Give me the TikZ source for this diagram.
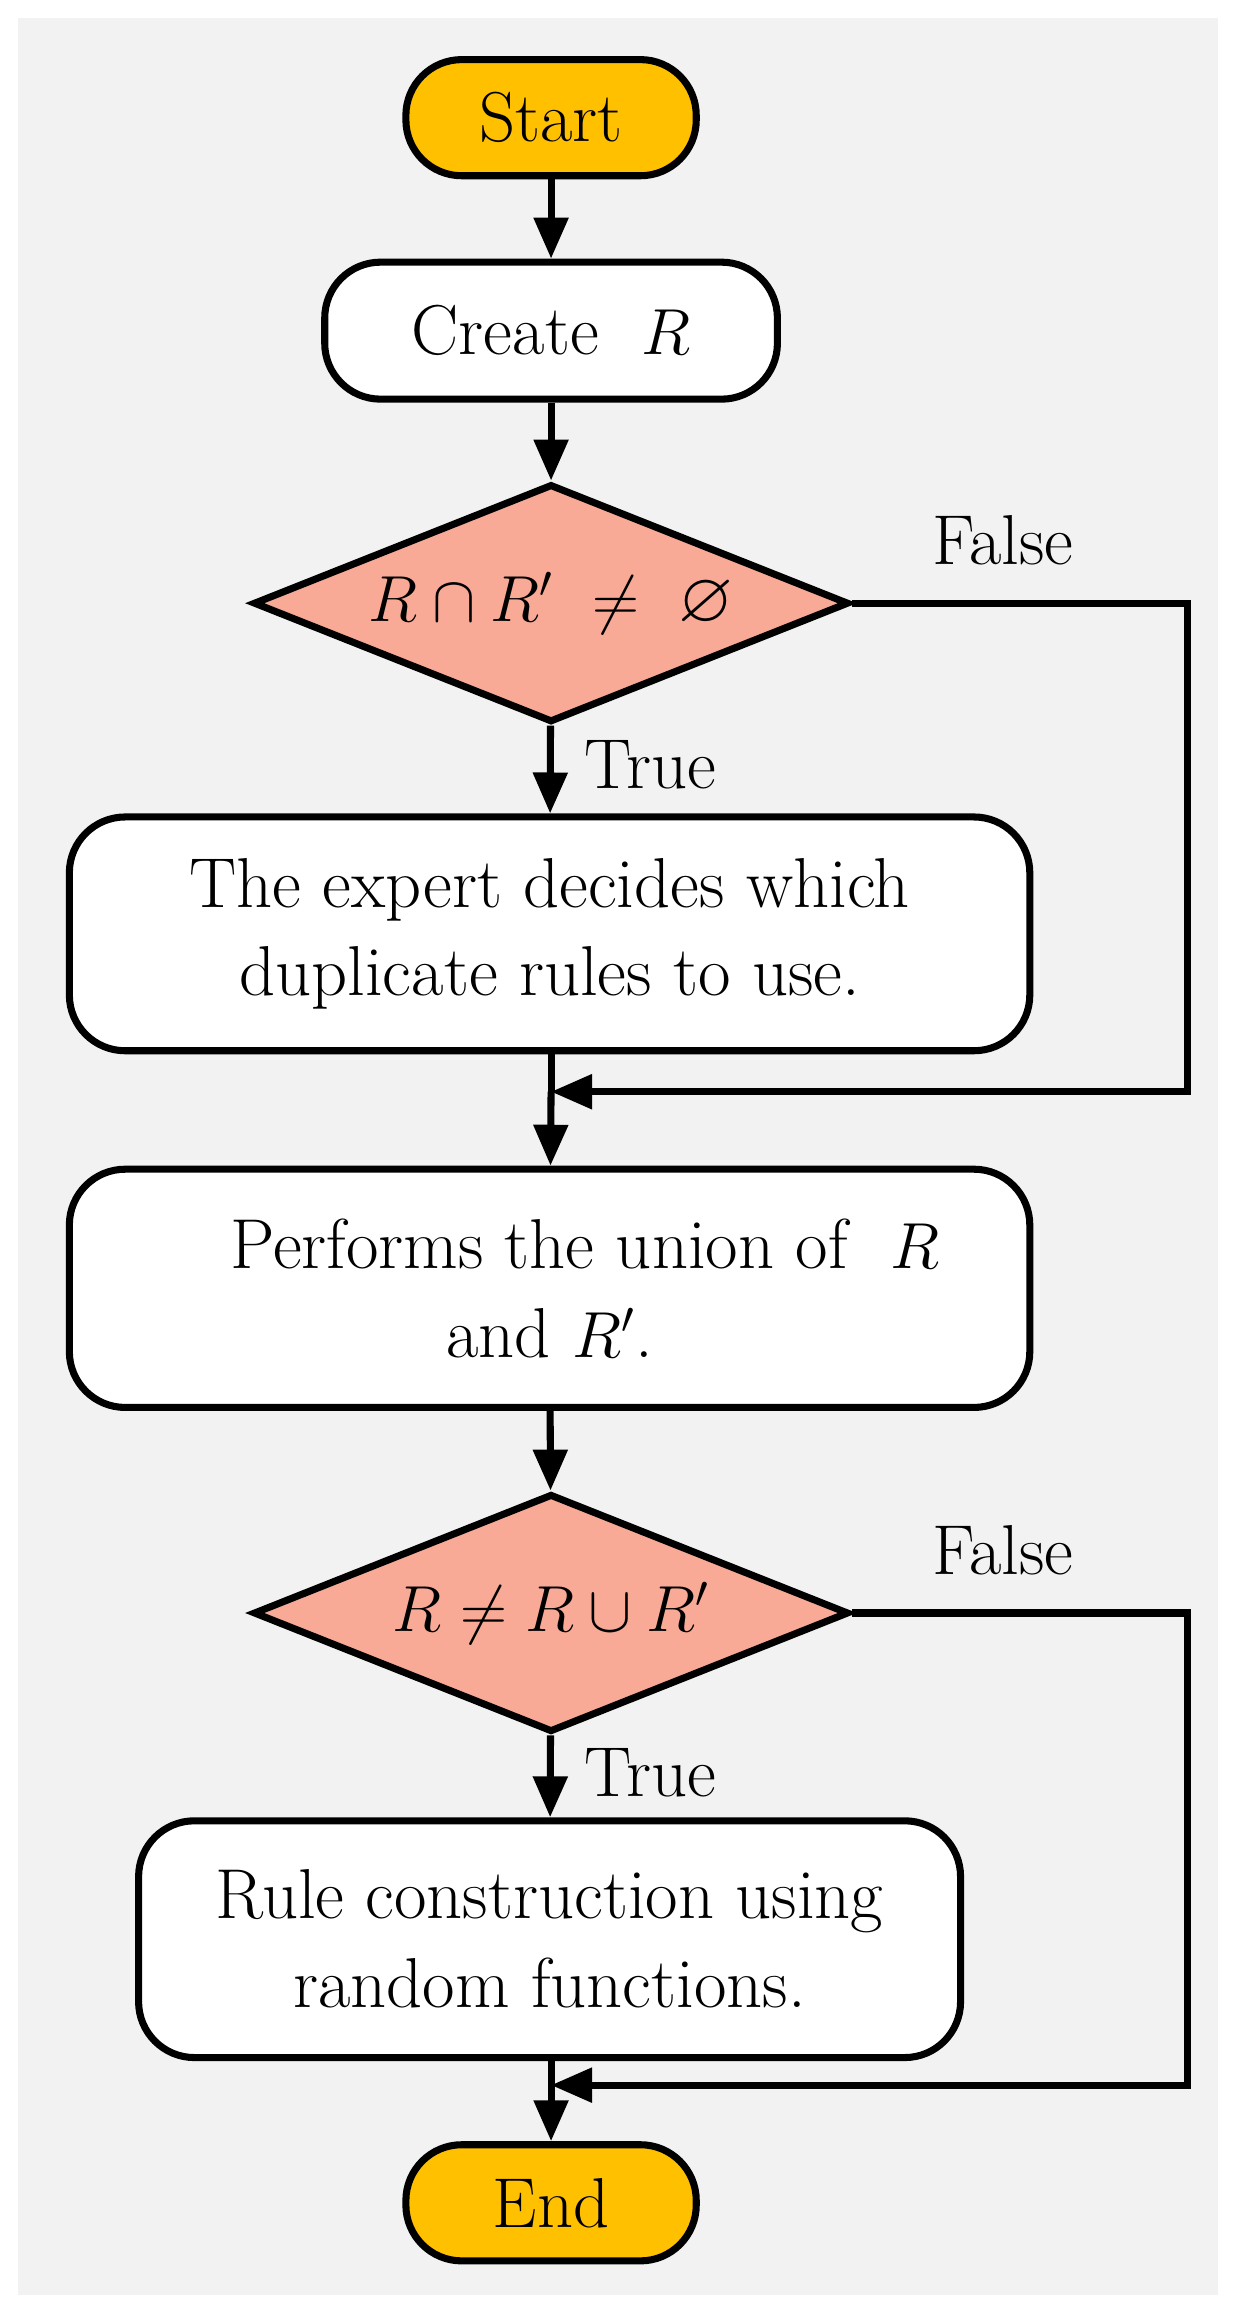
\documentclass[tikz,border=0pt]{standalone}
\usepackage{amsmath}
\usepackage{amssymb}
\usepackage{tikz}
\usetikzlibrary{shapes.geometric,arrows.meta,positioning}
\definecolor{startend}{RGB}{255,192,0}
\definecolor{decision}{RGB}{248,170,150}
\definecolor{panel}{RGB}{242,242,242}
\begin{document}
\begin{tikzpicture}[
			x=0.02cm, y=-0.02cm,
			font=\fontsize{27}{34}\selectfont,
			term/.style={draw, line width=2.7pt, rounded corners=0.75cm, fill=startend, minimum width=3.9cm, minimum height=1.56cm},
			box/.style={draw, line width=2.7pt, rounded corners=0.75cm, fill=white, align=center},
			dec/.style={draw, line width=2.7pt, diamond, aspect=2.5, fill=decision, minimum width=8cm, minimum height=3.2cm, inner sep=0pt},
			arrow/.style={-{Triangle[length=0.55cm, width=0.45cm]}, line width=2.7pt},
			line/.style={line width=2.7pt}
		]

		\useasboundingbox (0,0) rectangle (830,1553);
		\fill[panel] (12,12) rectangle (818,1541);

		\node[term] (start) at (370,79) {Start};
		\node[box, minimum width=6.08cm, minimum height=1.84cm] (create) at (370,222) {Create\ \ $R$};
		\node[dec] (check1) at (370,405) {$R\cap R'\ \neq\ \varnothing$};
		\node[box, minimum width=12.9cm, minimum height=3.14cm] (expert) at (369,627) {The expert decides which\\duplicate rules to use.};
		\node[box, minimum width=12.9cm, minimum height=3.2cm] (union) at (369,865) {\quad Performs the union of\ \ $R$\\and $R'$.};
		\node[dec] (check2) at (370,1083) {$R\neq R\cup R'$};
		\node[box, minimum width=11.04cm, minimum height=3.18cm] (rule) at (369,1302) {Rule construction using\\random functions.};
		\node[term] (end) at (370,1479) {End};

		\coordinate (join1) at (370,733);
		\coordinate (join2) at (370,1400);

		\draw[arrow] (start) -- (create);
		\draw[arrow] (create) -- (check1);
		\draw[arrow] (check1) -- (expert) node[pos=0.45, right, xshift=0.3cm] {True};
		\draw[line] (expert.south -| join1) -- (join1);
		\draw[arrow] (join1) -- (union);
		\draw[arrow] (check1.east) -- (797,405) node[pos=0.45, above, yshift=0.35cm] {False} -- (797,733) -- (join1);
		\draw[arrow] (union) -- (check2);
		\draw[arrow] (check2) -- (rule) node[pos=0.45, right, xshift=0.3cm] {True};
		\draw[line] (rule.south -| join2) -- (join2);
		\draw[arrow] (join2) -- (end);
		\draw[arrow] (check2.east) -- (797,1083) node[pos=0.45, above, yshift=0.35cm] {False} -- (797,1400) -- (join2);

	\end{tikzpicture}
\end{document}
